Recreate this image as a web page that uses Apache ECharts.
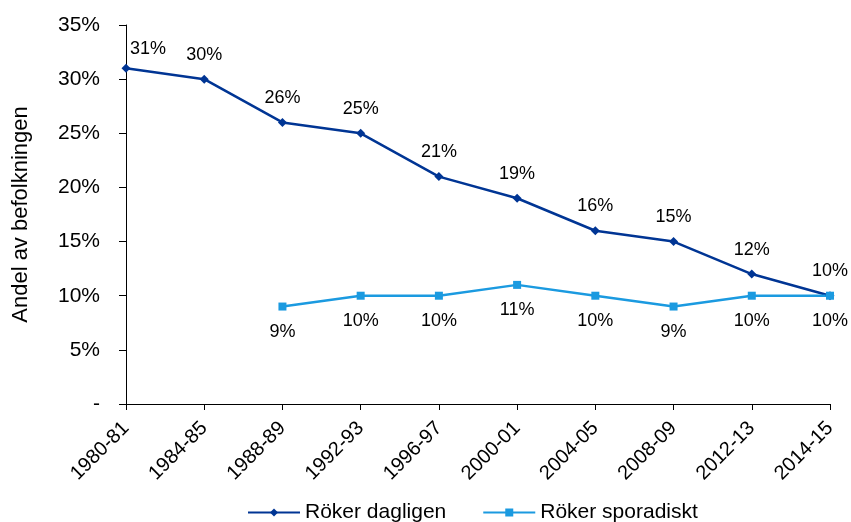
<!DOCTYPE html>
<html><head><meta charset="utf-8">
<script src="https://cdn.jsdelivr.net/npm/echarts@6/dist/echarts.min.js"></script>
<style>html,body{margin:0;padding:0;background:#fff}#c{width:851px;height:522px}</style>
</head><body><div id="c"></div>
<script>
var categories = ['1980-81','1984-85','1988-89','1992-93','1996-97','2000-01','2004-05','2008-09','2012-13','2014-15'];
var dailyValues = [31,30,26,25,21,19,16,15,12,10];
var sporadicValues = [null,null,9,10,10,11,10,9,10,10];
var yTicks = [0,5,10,15,20,25,30,35];
var seriesNames = ['Röker dagligen','Röker sporadiskt'];

var FONT = 'Liberation Sans, Arial, sans-serif';
var chart = echarts.init(document.getElementById('c'));
var dailyData = dailyValues.map(function(v,i){
  if(i===0) return {value:v, label:{offset:[22,5]}};
  return v;
});
chart.setOption({
  animation:false,
  grid:{left:126,right:21,top:25,bottom:118,containLabel:false},
  legend:{bottom:-6,left:242,itemWidth:52,itemHeight:10,itemGap:36,
    textStyle:{fontFamily:FONT,fontSize:21,color:'#000'},
    data:seriesNames},
  xAxis:{type:'category',data:categories,boundaryGap:false,
    axisLine:{lineStyle:{color:'#000',width:1}},
    axisTick:{show:true,length:6,lineStyle:{color:'#000'},alignWithLabel:true},
    axisLabel:{rotate:45,fontFamily:FONT,fontSize:20,color:'#000',margin:21,interval:0}},
  yAxis:{type:'value',min:0,max:35,interval:5,
    name:'Andel av befolkningen',nameLocation:'middle',nameGap:94,
    nameTextStyle:{fontFamily:FONT,fontSize:22,color:'#000'},
    axisLine:{show:true,lineStyle:{color:'#000',width:1}},
    axisTick:{show:true,length:7,lineStyle:{color:'#000'}},
    splitLine:{show:false},
    axisLabel:{fontFamily:FONT,fontSize:21,color:'#000',margin:26,
      formatter:function(v){return v===0?'-':v+'%';}}},
  series:[
    {name:seriesNames[0],type:'line',data:dailyData,symbol:'diamond',symbolSize:9,
      lineStyle:{color:'#003594',width:2.5},itemStyle:{color:'#003594'},
      label:{show:true,position:'top',distance:11,fontFamily:FONT,fontSize:18,color:'#000',
        formatter:function(p){return p.value+'%';}}},
    {name:seriesNames[1],type:'line',data:sporadicValues,symbol:'rect',symbolSize:8,connectNulls:false,
      lineStyle:{color:'#1B9AE0',width:2.5},itemStyle:{color:'#1B9AE0'},
      label:{show:true,position:'bottom',distance:12,fontFamily:FONT,fontSize:18,color:'#000',
        formatter:function(p){return p.value+'%';}}}
  ]
});
</script></body></html>
